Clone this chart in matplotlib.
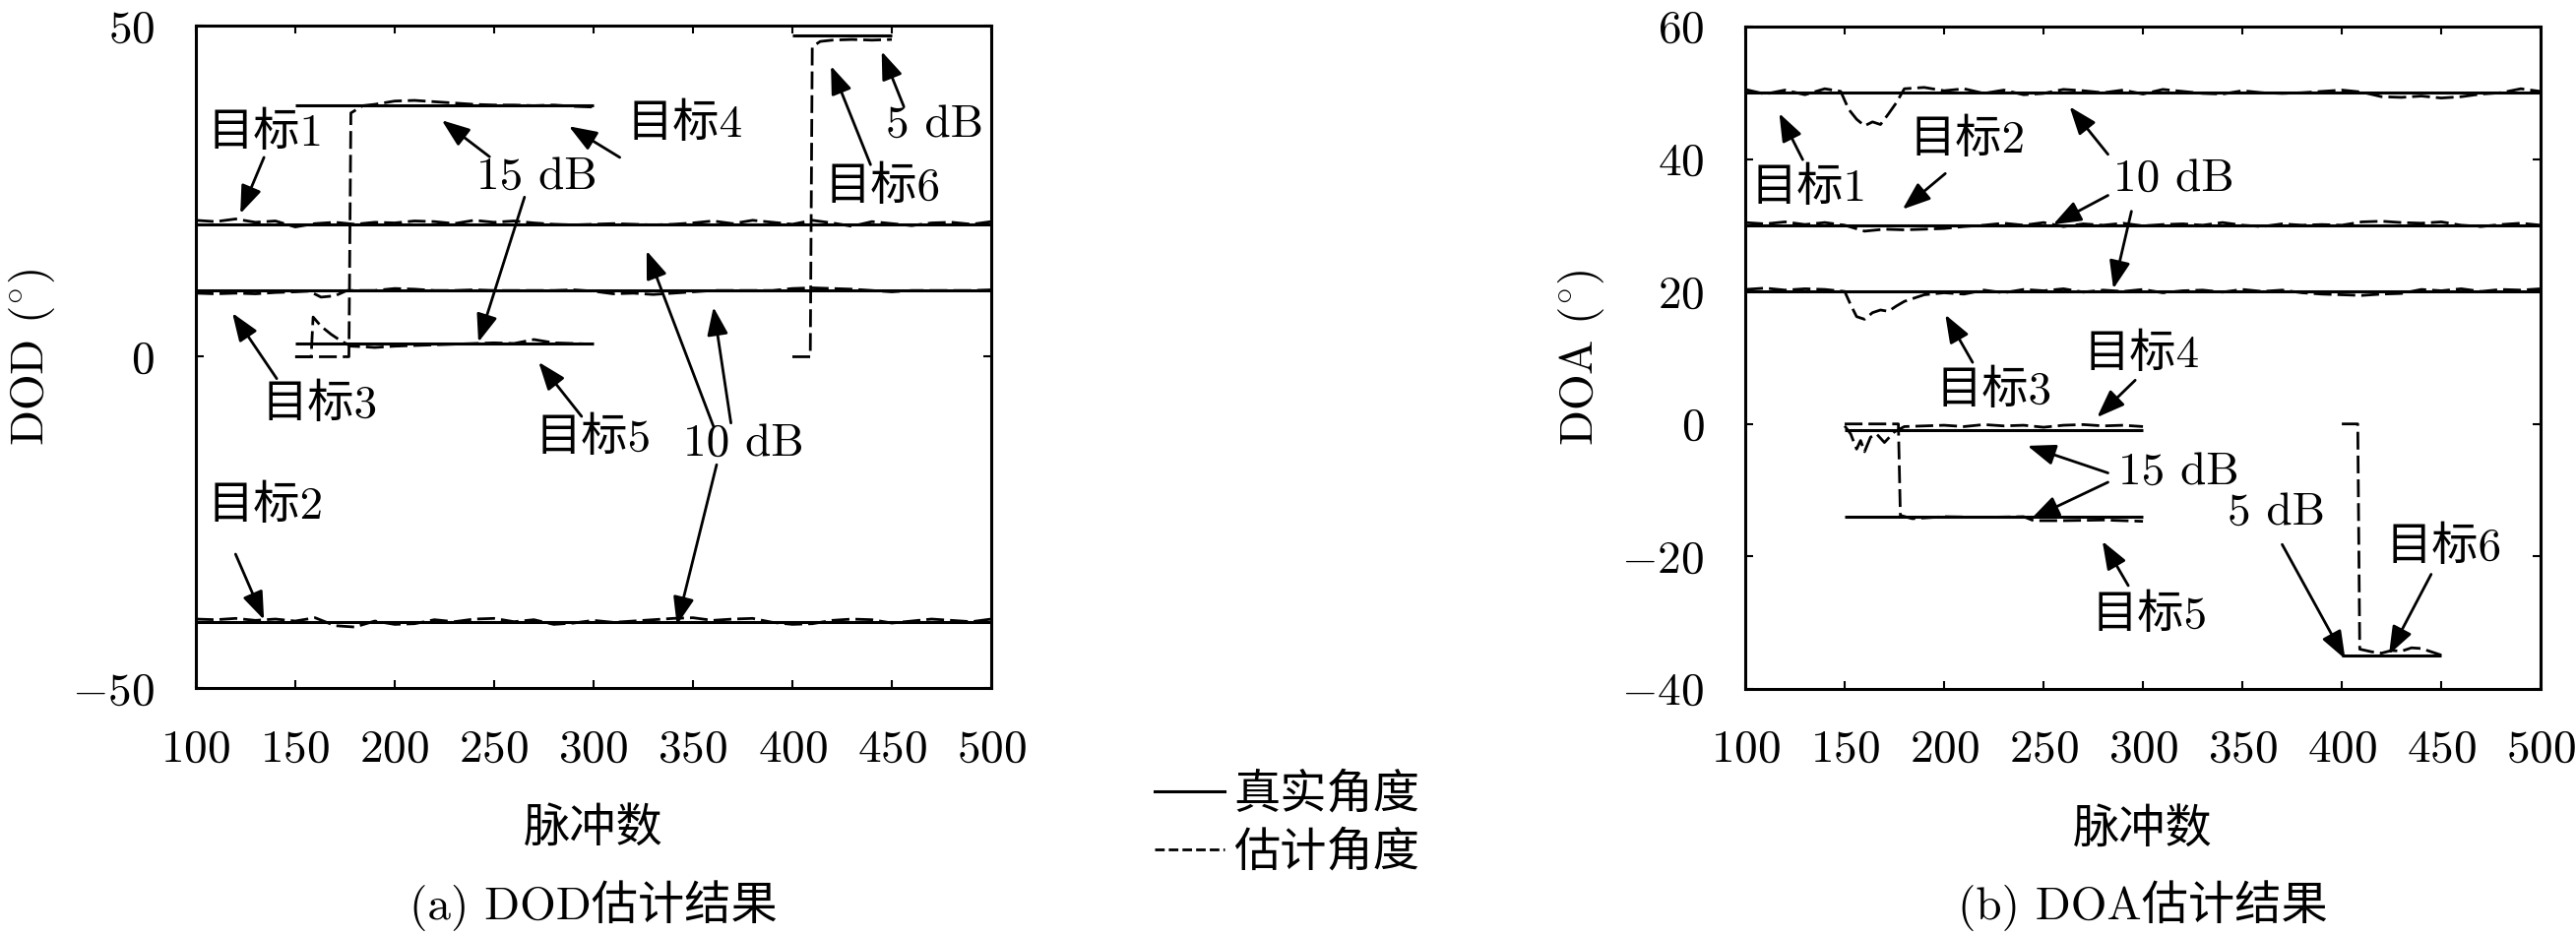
import matplotlib
matplotlib.use('Agg')
import matplotlib.pyplot as plt
from matplotlib.lines import Line2D

plt.rcParams['font.family'] = ['cmr10', 'Noto Sans CJK SC']
plt.rcParams['mathtext.fontset'] = 'cm'
plt.rcParams['axes.formatter.use_mathtext'] = True
plt.rcParams['axes.unicode_minus'] = True

# ---------------- data ----------------
X_TICKS = [100, 150, 200, 250, 300, 350, 400, 450, 500]
DOD_TICKS = [-50, 0, 50]
DOA_TICKS = [-40, -20, 0, 20, 40, 60]
GRID10 = list(range(100, 501, 10))

# DOD true angles (start, end, value)
dod_true = [(100, 500, 20), (100, 500, -40), (100, 500, 10),
            (150, 300, 38), (150, 300, 2), (400, 450, 48.5)]
# DOA true angles
doa_true = [(100, 500, 50), (100, 500, 30), (100, 500, 20),
            (150, 300, -1), (150, 300, -14), (400, 450, -35)]

# DOD estimates
dod_est1_x = GRID10
dod_est1_y = [20.6, 20.4, 20.8, 20.3, 20.5, 19.6, 20.1, 20.3, 20.0, 20.3,
              20.2, 20.5, 20.4, 20.1, 20.6, 20.3, 20.5, 20.2, 20.0, 19.9,
              20.0, 20.1, 20.0, 19.9, 20.0, 20.2, 20.5, 20.1, 20.6, 20.3,
              20.0, 20.6, 20.2, 19.7, 20.4, 20.1, 19.8, 20.2, 20.3, 20.0, 20.4]
dod_est2_x = GRID10
dod_est2_y = [-39.6, -39.7, -39.5, -39.8, -39.6, -39.9, -39.4, -40.6, -40.8, -39.9,
              -40.4, -40.3, -39.7, -40.0, -39.6, -39.5, -40.0, -39.7, -40.4, -40.2,
              -39.8, -40.1, -39.9, -39.7, -39.5, -39.4, -39.8, -39.6, -39.5, -40.1,
              -40.4, -40.3, -39.8, -39.6, -39.7, -40.2, -39.9, -39.6, -39.8, -40.0, -39.6]
dod_est3_x = [100, 110, 120, 130, 140, 150, 157, 163, 170, 176,
              180, 190, 200, 210, 220, 230, 240, 250, 260, 270, 280, 290, 300,
              310, 320, 330, 340, 350, 360, 370, 380, 390, 400, 410, 420, 430,
              440, 450, 460, 470, 480, 490, 500]
dod_est3_y = [9.6, 9.5, 9.6, 9.5, 9.7, 9.8, 9.9, 9.0, 9.2, 10.0,
              10.0, 10.0, 10.3, 10.2, 10.0, 10.0, 10.1, 10.0, 10.0, 10.0, 10.0, 10.1, 9.9,
              9.5, 9.6, 9.4, 9.6, 9.8, 10.0, 10.0, 10.0, 10.0, 10.3, 10.4, 10.3, 10.2,
              10.0, 9.8, 10.0, 10.0, 10.0, 10.0, 10.1]
dod_est4_x = [150, 177, 178, 184, 190, 200, 210, 220, 230, 240, 250, 260, 270, 280, 290, 300]
dod_est4_y = [0.0, 0.0, 36.8, 37.9, 38.1, 38.6, 38.7, 38.5, 38.3, 38.1, 38.0, 38.0, 37.9, 38.0, 37.8, 37.7]
dod_est5_x = [150, 158, 159, 163, 168, 173, 178, 185, 190, 200, 210, 220, 230, 240,
              250, 260, 270, 280, 290, 300]
dod_est5_y = [0.0, 0.0, 6.0, 4.6, 3.4, 2.4, 1.6, 1.5, 1.4, 1.6, 1.7, 1.8, 1.9, 2.0,
              2.1, 2.0, 2.6, 2.1, 2.0, 1.9]
dod_est6_x = [400, 409, 410, 414, 420, 430, 440, 450]
dod_est6_y = [0.0, 0.0, 46.8, 47.6, 47.8, 47.9, 47.8, 47.9]

# DOA estimates
doa_est1_x = [100, 110, 120, 130, 140, 148, 152, 156, 160, 164, 168, 172, 176, 180,
              190, 200, 210, 220, 230, 240, 250, 260, 270, 280, 290, 300, 310, 320,
              330, 340, 350, 360, 370, 380, 390, 400, 410, 420, 430, 440, 450, 460,
              470, 480, 490, 500]
doa_est1_y = [50.5, 49.8, 50.4, 49.7, 50.6, 50.2, 47.5, 46.0, 45.0, 45.6, 45.2, 46.8, 48.5, 50.6,
              50.8, 50.3, 50.6, 49.9, 50.4, 49.7, 49.9, 50.5, 50.3, 50.0, 50.4, 49.8, 50.5, 50.2,
              49.9, 49.8, 50.3, 50.0, 49.9, 50.0, 50.2, 50.4, 50.1, 49.4, 49.3, 49.5, 49.2, 49.4,
              49.8, 50.0, 50.6, 50.2]
doa_est2_x = GRID10
doa_est2_y = [30.4, 30.2, 30.5, 30.1, 30.4, 30.0, 29.1, 29.4, 29.3, 29.4,
              29.5, 29.8, 30.0, 30.3, 30.0, 30.4, 29.8, 30.2, 30.0, 30.3,
              29.9, 30.1, 30.2, 30.0, 30.4, 30.0, 29.8, 30.2, 30.0, 30.1,
              30.0, 30.5, 30.6, 30.4, 30.3, 30.5, 30.0, 29.8, 30.1, 30.3, 30.0]
doa_est3_x = [100, 110, 120, 130, 140, 150, 153, 156, 160, 164, 168, 172, 176, 180, 185, 190,
              200, 210, 220, 230, 240, 250, 260, 270, 280, 290, 300, 310, 320, 330, 340,
              350, 360, 370, 380, 390, 400, 410, 420, 430, 440, 450, 460, 470, 480, 490, 500]
doa_est3_y = [20.3, 20.5, 20.2, 20.4, 20.3, 20.0, 18.0, 16.2, 15.8, 16.8, 17.2, 17.0, 17.8, 18.5, 19.0, 19.5,
              19.8, 19.6, 20.2, 19.8, 20.3, 20.1, 20.4, 19.9, 20.2, 20.0, 20.3, 19.8, 20.1, 20.2, 19.9,
              20.3, 20.0, 20.2, 19.8, 19.6, 19.5, 19.4, 19.6, 19.7, 20.3, 20.1, 20.4, 20.0, 20.3, 20.2, 20.4]
doa_est4_x = [150, 153, 156, 158, 160, 163, 166, 170, 175, 180, 190, 200, 210, 220, 230,
              240, 250, 260, 270, 280, 290, 300]
doa_est4_y = [-0.3, -1.5, -3.8, -2.5, -4.2, -2.0, -1.5, -2.8, -1.2, -0.4, -0.3, -0.2, -0.4, -0.1, -0.3,
              -0.2, -0.5, -0.2, -0.1, -0.3, -0.2, -0.4]
doa_est5_x = [150, 177, 178, 184, 200, 220, 240, 245, 260, 280, 300]
doa_est5_y = [0.0, 0.0, -13.8, -14.3, -14.0, -14.1, -14.0, -14.6, -14.6, -14.5, -14.7]
doa_est6_x = [400, 408, 409, 415, 420, 425, 430, 435, 440, 445, 450]
doa_est6_y = [0.0, 0.0, -34.0, -34.4, -34.6, -34.2, -34.3, -33.8, -33.9, -34.4, -34.9]

dod_est = [(dod_est1_x, dod_est1_y), (dod_est2_x, dod_est2_y), (dod_est3_x, dod_est3_y),
           (dod_est4_x, dod_est4_y), (dod_est5_x, dod_est5_y), (dod_est6_x, dod_est6_y)]
doa_est = [(doa_est1_x, doa_est1_y), (doa_est2_x, doa_est2_y), (doa_est3_x, doa_est3_y),
           (doa_est4_x, doa_est4_y), (doa_est5_x, doa_est5_y), (doa_est6_x, doa_est6_y)]

# annotations: label, text position, arrows (tail x, tail y, head x, head y)
dod_notes = [
    ('目标1', (135, 33.8), [(134.3, 30.1, 122.4, 21.6)]),
    ('目标4', (346, 35.1), [(313.2, 30.1, 287.6, 34.8)]),
    ('15 dB', (271.5, 27.1), [(247.7, 30.2, 223.7, 35.7), (265.3, 24.1, 242.1, 2.2)]),
    ('5 dB', (471.5, 35.0), [(456, 37.8, 444.9, 46.1)]),
    ('目标6', (445.5, 25.6), [(439.3, 29.0, 419.4, 43.9)]),
    ('目标3', (162, -7.2), [(140.7, -3.3, 118.4, 6.6)]),
    ('目标5', (300, -12.3), [(294, -9.0, 272.4, -0.8)]),
    ('10 dB', (375.5, -13.2), [(360.3, -10.5, 326.7, 16.0), (369.1, -10.0, 360.3, 7.5),
                               (361.9, -16.3, 341.9, -40.5)]),
    ('目标2', (135, -22.5), [(120, -29.8, 134.3, -39.7)]),
]
doa_notes = [
    ('目标1', (132.2, 35.6), [(128.9, 39.9, 117.1, 46.9)]),
    ('目标2', (211.6, 42.9), [(200.6, 37.8, 179.1, 32.4)]),
    ('10 dB', (315.7, 37.0), [(282.4, 40.7, 263.1, 47.9), (282.4, 34.5, 254.8, 30.1),
                              (294.2, 32.1, 285.1, 20.4)]),
    ('目标3', (224.8, 5.0), [(214.3, 9.3, 200.6, 16.5)]),
    ('目标4', (299.2, 10.5), [(296.1, 6.6, 276.9, 1.0)]),
    ('15 dB', (318.2, -7.3), [(282.4, -7.4, 241.9, -3.3), (282.4, -8.8, 243.8, -14.3)]),
    ('目标5', (303.3, -28.9), [(292.6, -24.4, 279.6, -17.7)]),
    ('5 dB', (367, -13.4), [(370, -18.2, 401.7, -35.5)]),
    ('目标6', (451.2, -18.7), [(444.9, -22.7, 423.7, -34.8)]),
]

# ---------------- drawing ----------------
FS = 34
LW = 2.2
DASH = (0, (6.5, 2.2))

fig = plt.figure(figsize=(26.17, 9.51), dpi=100)
axL = fig.add_axes([0.0760, 0.2650, 0.3088, 0.7077])
axR = fig.add_axes([0.6775, 0.2640, 0.3088, 0.7077])


def draw(ax, trues, ests, notes, ylim, yticks, ylabel):
    for (x0, x1, v) in trues:
        ax.plot([x0, x1], [v, v], color='k', lw=LW, solid_capstyle='butt')
    for (xs, ys) in ests:
        ax.plot(xs, ys, color='k', lw=2.0, linestyle=DASH)
    for (lab, (tx, ty), arrows) in notes:
        ax.text(tx, ty, lab, fontsize=FS, ha='center', va='center')
        for (ax0, ay0, hx, hy) in arrows:
            ax.annotate('', xy=(hx, hy), xytext=(ax0, ay0),
                        arrowprops=dict(arrowstyle='-|>,head_length=0.72,head_width=0.27',
                                        mutation_scale=24, lw=2.0, color='k',
                                        shrinkA=0, shrinkB=0))
    ax.set_xlim(100, 500)
    ax.set_ylim(*ylim)
    ax.set_xticks(X_TICKS)
    ax.set_yticks(yticks)
    ax.tick_params(direction='in', length=6, width=1.5, top=True, right=True,
                   labelsize=FS, pad=30)
    for s in ax.spines.values():
        s.set_linewidth(2.2)
    ax.set_xlabel('脉冲数', fontsize=FS, labelpad=27)
    ax.set_ylabel(ylabel, fontsize=FS, va='center')
    ax.yaxis.set_label_coords(-0.206, 0.5)


draw(axL, dod_true, dod_est, dod_notes, (-50, 50), DOD_TICKS, r'DOD ($^{\circ}$)')
draw(axR, doa_true, doa_est, doa_notes, (-40, 60), DOA_TICKS, r'DOA ($^{\circ}$)')

fig.text(603 / 2617, 1 - 920 / 951, '(a) DOD估计结果', fontsize=FS, ha='center', va='center')
fig.text(2177 / 2617, 1 - 920 / 951, '(b) DOA估计结果', fontsize=FS, ha='center', va='center')

handles = [Line2D([], [], color='k', lw=LW), Line2D([], [], color='k', lw=2.0, linestyle=(0, (3.5, 1.5)))]
fig.legend(handles, ['真实角度', '估计角度'], loc='upper left',
           bbox_to_anchor=(1173 / 2617, 1 - 785 / 951), frameon=False, fontsize=FS,
           handlelength=1.5, handletextpad=0.2, borderpad=0, borderaxespad=0,
           labelspacing=0.3)

fig.savefig('out.png', dpi=100)
